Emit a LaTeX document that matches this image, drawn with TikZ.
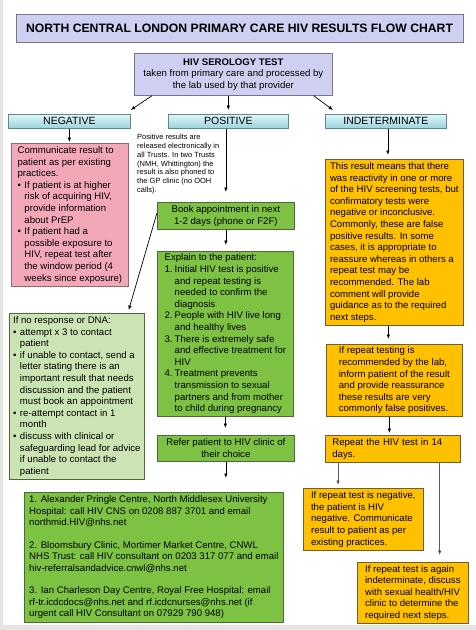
\documentclass[tikz,border=0pt]{standalone}
\usepackage{fontspec}
\setmainfont{Liberation Sans}
\usetikzlibrary{arrows.meta, calc}
\definecolor{hivlav}{HTML}{CFCFF2}
\definecolor{hivlavdk}{HTML}{76768F}
\definecolor{hivcyanlt}{HTML}{E2F6F9}
\definecolor{hivcyandk}{HTML}{98D3DC}
\definecolor{hivcyanedge}{HTML}{5D8A90}
\definecolor{hivpink}{HTML}{F3A8B8}
\definecolor{hivpinkedge}{HTML}{8F6A72}
\definecolor{hivgreen}{HTML}{7DC242}
\definecolor{hivgreenlt}{HTML}{CBE4B3}
\definecolor{hivgreenedge}{HTML}{4E6A3C}
\definecolor{hivorange}{HTML}{FFC000}
\definecolor{hivorangeedge}{HTML}{6E5C3A}
\definecolor{hivpage}{HTML}{E4E4E4}

\newcommand{\hivbul}{\makebox[0.72em][l]{\textbullet}}
\newcommand{\hivind}{\hspace*{0.72em}}
\newcommand{\hivnum}[1]{\makebox[1.05em][l]{#1}}
\newcommand{\hivnind}{\hspace*{1.05em}}

\tikzset{
  box/.style={draw, line width=0.7pt, anchor=north west, inner sep=2pt,
              font=\fontsize{9.6}{11.6}\selectfont},
  lavbox/.style={box, draw=hivlavdk, fill=hivlav},
  resbox/.style={draw=hivcyanedge, line width=0.7pt, anchor=north west,
                 top color=hivcyanlt, bottom color=hivcyandk,
                 font=\fontsize{10.5}{12}\selectfont, inner sep=1pt},
  pinkbox/.style={box, draw=hivpinkedge, fill=hivpink, align=left},
  greenbox/.style={box, draw=hivgreenedge, fill=hivgreen},
  ltgreenbox/.style={box, draw=hivgreenedge, fill=hivgreenlt, align=left},
  orangebox/.style={box, draw=hivorangeedge, fill=hivorange, align=left},
  arr/.style={-{Latex[length=4.5pt,width=3.5pt]}, line width=0.7pt},
  grayarr/.style={arr, draw=black!65, -{Latex[length=4.5pt,width=3.5pt,fill=black]}}
}

\begin{document}
\begin{tikzpicture}[x=1pt, y=-1pt]
  %% page
  \useasboundingbox (0,0) rectangle (476,630);
  \fill[hivpage] (0,0) rectangle (476,630);
  \fill[white] (3,0) rectangle (476,625);

  %% title and test
  \node[lavbox, anchor=center, minimum width=447pt, minimum height=28pt,
        font=\bfseries\fontsize{12.2}{14}\selectfont] (title) at (239.5,28)
    {NORTH CENTRAL LONDON PRIMARY CARE HIV RESULTS FLOW CHART};
  \node[lavbox, minimum width=198pt, minimum height=42pt, align=center,
        font=\fontsize{9.6}{11.7}\selectfont] (sero) at (134,53)
    {\textbf{HIV SEROLOGY TEST}\\taken from primary care and processed by\\the lab used by that provider};

  %% results
  \node[resbox, minimum width=122pt, minimum height=14pt] (neg) at (8,114) {NEGATIVE};
  \node[resbox, minimum width=120pt, minimum height=14pt] (pos) at (168,114) {POSITIVE};
  \node[resbox, minimum width=121pt, minimum height=14pt] (indet) at (325,114) {INDETERMINATE};

  %% negative branch
  \node[pinkbox, minimum width=117pt, minimum height=143pt] (pink) at (11,143)
    {Communicate result to\\
     patient as per existing\\
     practices.\\
     \hivbul If patient is at higher\\
     \hivind risk of acquiring HIV,\\
     \hivind provide information\\
     \hivind about PrEP\\
     \hivbul If patient had a\\
     \hivind possible exposure to\\
     \hivind HIV, repeat test after\\
     \hivind the window period (4\\
     \hivind weeks since exposure)};

  %% positive branch
  \node[anchor=north west, inner sep=0pt, align=left,
        font=\fontsize{7.5}{8.8}\selectfont] (postext) at (137,134)
    {Positive results are\\
     released electronically in\\
     all Trusts. In two Trusts\\
     (NMH, Whittington) the\\
     result is also phoned to\\
     the GP clinic (no OOH\\
     calls).};
  \node[greenbox, minimum width=137pt, minimum height=27pt, align=center] (book) at (157,202)
    {Book appointment in next\\1-2 days (phone or F2F)};
  \node[greenbox, minimum width=136pt, minimum height=165pt, align=left] (explain) at (157,251)
    {Explain to the patient:\\
     \hivnum{1.}Initial HIV test is positive\\
     \hivnind and repeat testing is\\
     \hivnind needed to confirm the\\
     \hivnind diagnosis\\
     \hivnum{2.}People with HIV live long\\
     \hivnind and healthy lives\\
     \hivnum{3.}There is extremely safe\\
     \hivnind and effective treatment for\\
     \hivnind HIV\\
     \hivnum{4.}Treatment prevents\\
     \hivnind transmission to sexual\\
     \hivnind partners and from mother\\
     \hivnind to child during pregnancy};
  \node[greenbox, minimum width=137pt, minimum height=26pt, align=center] (refer) at (157,435)
    {Refer patient to HIV clinic of\\their choice};
  \node[greenbox, minimum width=259pt, minimum height=130pt, align=left] (clinic) at (24,492)
    {1. Alexander Pringle Centre, North Middlesex University\\
     Hospital: call HIV CNS on 0208 887 3701 and email\\
     northmid.HIV@nhs.net\\[10.7pt]
     2. Bloomsbury Clinic, Mortimer Market Centre, CNWL\\
     NHS Trust: call HIV consultant on 0203 317 077 and email\\
     hiv-referralsandadvice.cnwl@nhs.net\\[10.7pt]
     3. Ian Charleson Day Centre, Royal Free Hospital: email\\
     rf-tr.icdcdocs@nhs.net and rf.icdcnurses@nhs.net (if\\
     urgent call HIV Consultant on 07929 790 948)};
  \node[ltgreenbox, minimum width=135pt, minimum height=166pt] (dna) at (9,313)
    {If no response or DNA:\\
     \hivbul attempt x 3 to contact\\
     \hivind patient\\
     \hivbul if unable to contact, send a\\
     \hivind letter stating there is an\\
     \hivind important result that needs\\
     \hivind discussion and the patient\\
     \hivind must book an appointment\\
     \hivbul re-attempt contact in 1\\
     \hivind month\\
     \hivbul discuss with clinical or\\
     \hivind safeguarding lead for advice\\
     \hivind if unable to contact the\\
     \hivind patient};

  %% indeterminate branch
  \node[orangebox, minimum width=138pt, minimum height=166pt] (oraA) at (325,159)
    {This result means that there\\
     was reactivity in one or more\\
     of the HIV screening tests, but\\
     confirmatory tests were\\
     negative or inconclusive.\\
     Commonly, these are false\\
     positive results. In some\\
     cases, it is appropriate to\\
     reassure whereas in others a\\
     repeat test may be\\
     recommended. The lab\\
     comment will provide\\
     guidance as to the required\\
     next steps.};
  \node[orangebox, minimum width=136pt, minimum height=72pt] (oraB) at (326,344)
    {If repeat testing is\\
     recommended by the lab,\\
     inform patient of the result\\
     and provide reassurance\\
     these results are very\\
     commonly false positives.};
  \node[orangebox, minimum width=135pt, minimum height=27pt, text width=121pt,
        inner xsep=7pt] (oraC) at (325,435)
    {Repeat the HIV test in 14\\days.};
  \node[orangebox, minimum width=120pt, minimum height=62pt] (oraD) at (303,488)
    {If repeat test is negative,\\
     the patient is HIV\\
     negative. Communicate\\
     result to patient as per\\
     existing practices.};
  \node[orangebox, minimum width=111pt, minimum height=61pt] (oraE) at (357,562)
    {If repeat test is again\\
     indeterminate, discuss\\
     with sexual health/HIV\\
     clinic to determine the\\
     required next steps.};

  %% connectors
  \draw[arr] ([xshift=18pt]sero.south west) -- ([yshift=4pt]neg.north east);
  \draw[arr] (sero.south -| pos.north) -- ([yshift=4pt]pos.north);
  \draw[arr] ([xshift=-19pt]sero.south east) -- ([xshift=8pt,yshift=4pt]indet.north west);
  \draw[arr] (neg.south) -- ($(neg.south |- pink.north)+(0,-1)$);
  \draw[arr] (pos.south -| book.north) -- ($(book.north)+(0,-10)$);
  \draw[arr] (book.south) -- ($(book.south |- explain.north)+(0,-6)$);
  \draw[arr] (explain.south) -- ($(explain.south |- refer.north)+(0,-7)$);
  \draw[arr] (refer.south) -- ($(refer.south |- clinic.north)+(0,-14)$);
  \draw[arr] ($(book.west)+(0,-3)$) -- ($(dna.north east)+(-16,-3)$);
  \draw[arr] ($(indet.south)+(2,0)$) -- ($(indet.south |- oraA.north)+(2,-4)$);
  \draw[arr] ($(oraA.south)+(-6,0)$) -- ($(oraA.south |- oraB.north)+(-6,-5)$);
  \draw[arr] ($(oraB.south)+(-5,0)$) -- ($(oraB.south |- oraC.north)+(-5,-2)$);
  \draw[grayarr] ($(oraC.south west)+(13,0)$) -- ($(oraC.south west |- oraD.north)+(13,-3)$);
  \draw[grayarr] ($(oraC.south east)+(-21,0)$) -- ($(oraC.south east |- oraE.north)+(-21,-7)$);
\end{tikzpicture}
\end{document}
